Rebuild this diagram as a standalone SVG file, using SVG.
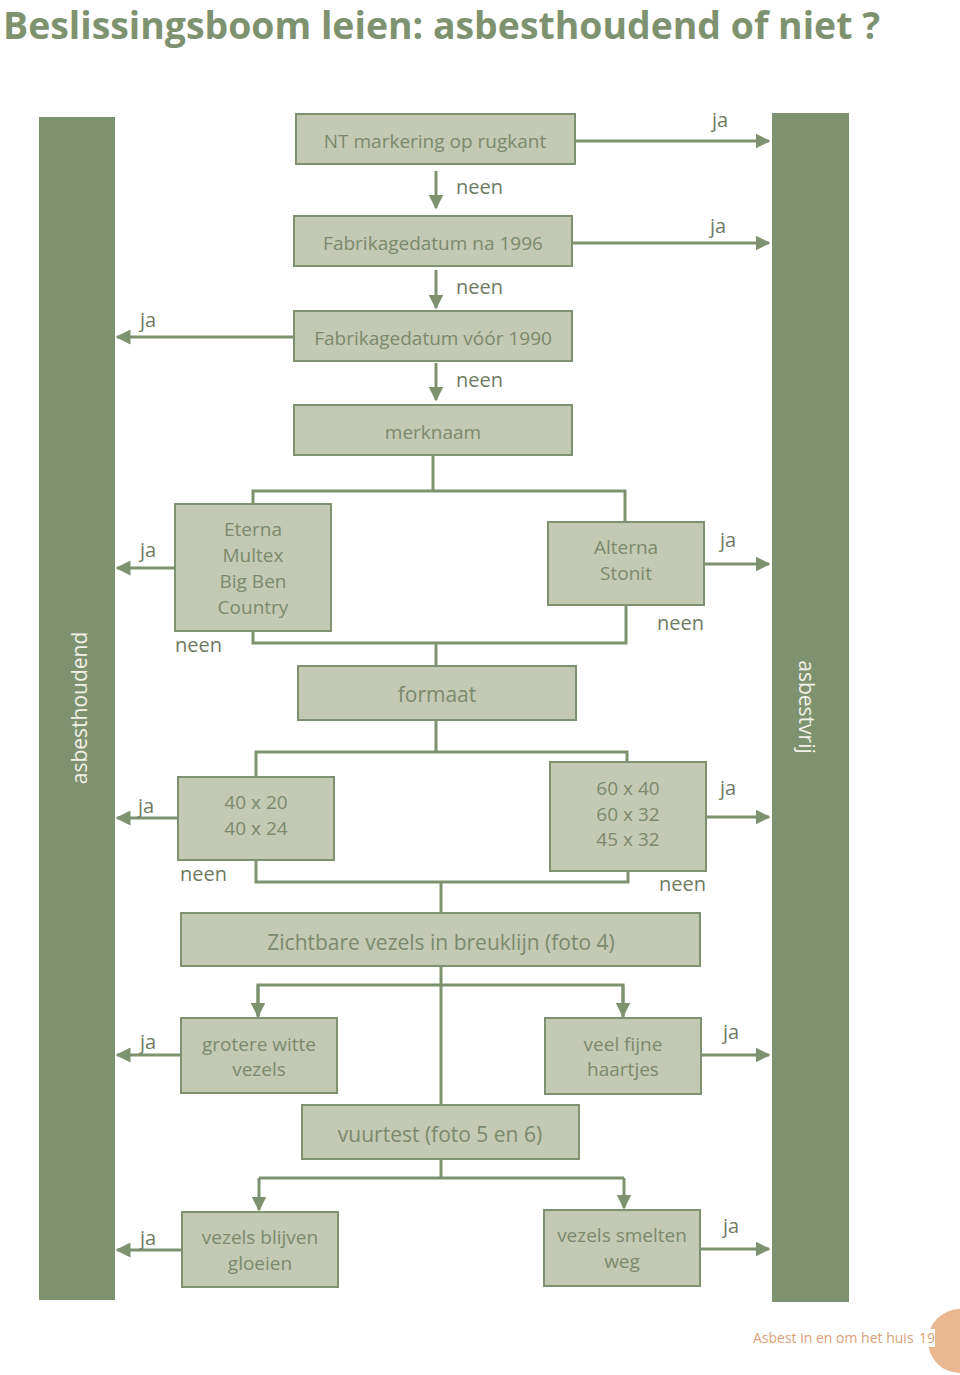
<svg xmlns="http://www.w3.org/2000/svg" width="960" height="1375" viewBox="0 0 960 1375">
<style>
.bar{fill:#7f926f}
.node rect{fill:#c3c9b3;stroke:#7f926f;stroke-width:2}
.node text{fill:#7c8a6c;font-family:"Open Sans","Noto Sans",sans-serif;font-size:19px;text-anchor:middle}
.lbl{fill:#6f7b63;font-family:"Open Sans","Noto Sans",sans-serif;font-size:20px}
.conn path{fill:none;stroke:#7f926f;stroke-width:3}
.side{fill:#f2f0e6;font-family:"Open Sans","Noto Sans",sans-serif;font-size:21px;text-anchor:middle}
.foot{font-family:"Open Sans","Noto Sans",sans-serif;font-size:14px;fill:#d9a177}
</style>
<defs>
<marker id="ah" viewBox="0 0 10 10" refX="9" refY="5" markerWidth="5" markerHeight="5" orient="auto" markerUnits="strokeWidth">
<path d="M0,0 L10,5 L0,10 z" fill="#7f926f"/>
</marker>
</defs>
<rect width="960" height="1375" fill="#ffffff"/>
<text x="3" y="39" font-family="'Open Sans','Noto Sans',sans-serif" font-weight="bold" font-size="37" fill="#7f926f" textLength="877" lengthAdjust="spacingAndGlyphs">Beslissingsboom leien: asbesthoudend of niet ?</text>

<g id="bar-asbesthoudend">
<rect class="bar" x="39" y="117" width="76" height="1183"/>
<text class="side" transform="translate(87,708) rotate(-90)">asbesthoudend</text>
</g>
<g id="bar-asbestvrij">
<rect class="bar" x="772" y="113" width="77" height="1189"/>
<text class="side" transform="translate(799,707) rotate(90)">asbestvrij</text>
</g>

<g class="conn" id="connectors">
<path d="M575,141 H769" marker-end="url(#ah)"/>
<path d="M572,243 H769" marker-end="url(#ah)"/>
<path d="M436,171 V208" marker-end="url(#ah)"/>
<path d="M436,270 V308" marker-end="url(#ah)"/>
<path d="M294,337 H117" marker-end="url(#ah)"/>
<path d="M436,363 V400" marker-end="url(#ah)"/>
<path d="M433,455 V491 M253,504 V491 H625 V522"/>
<path d="M175,568 H117" marker-end="url(#ah)"/>
<path d="M253,631 V643 H626 V605 M436,643 V666"/>
<path d="M704,564 H769" marker-end="url(#ah)"/>
<path d="M436,720 V752 M256,777 V752 H627 V762"/>
<path d="M178,818 H117" marker-end="url(#ah)"/>
<path d="M256,860 V882 H628 V871 M441,882 V913"/>
<path d="M706,817 H769" marker-end="url(#ah)"/>
<path d="M441,966 V1105 M258,1017 V985 H623 V1017"/>
<path d="M258,985 V1016" marker-end="url(#ah)"/>
<path d="M623,985 V1016" marker-end="url(#ah)"/>
<path d="M181,1055 H117" marker-end="url(#ah)"/>
<path d="M701,1055 H769" marker-end="url(#ah)"/>
<path d="M441,1159 V1178 H624 M441,1178 H259"/>
<path d="M259,1178 V1210" marker-end="url(#ah)"/>
<path d="M624,1178 V1208" marker-end="url(#ah)"/>
<path d="M182,1250 H117" marker-end="url(#ah)"/>
<path d="M700,1249 H769" marker-end="url(#ah)"/>
</g>

<g id="labels">
<text class="lbl" x="712" y="127">ja</text>
<text class="lbl" x="710" y="233">ja</text>
<text class="lbl" x="456" y="194">neen</text>
<text class="lbl" x="456" y="294">neen</text>
<text class="lbl" x="140" y="327">ja</text>
<text class="lbl" x="456" y="387">neen</text>
<text class="lbl" x="140" y="557">ja</text>
<text class="lbl" x="175" y="652">neen</text>
<text class="lbl" x="720" y="547">ja</text>
<text class="lbl" x="657" y="630">neen</text>
<text class="lbl" x="138" y="813">ja</text>
<text class="lbl" x="180" y="881">neen</text>
<text class="lbl" x="720" y="795">ja</text>
<text class="lbl" x="659" y="891">neen</text>
<text class="lbl" x="140" y="1049">ja</text>
<text class="lbl" x="723" y="1039">ja</text>
<text class="lbl" x="140" y="1245">ja</text>
<text class="lbl" x="723" y="1233">ja</text>
</g>

<g id="n-nt" class="node"><rect x="296" y="114" width="279" height="50"/><text x="435" y="148">NT markering op rugkant</text></g>
<g id="n-1996" class="node"><rect x="294" y="216" width="278" height="50"/><text x="433" y="250">Fabrikagedatum na 1996</text></g>
<g id="n-1990" class="node"><rect x="294" y="311" width="278" height="50"/><text x="433" y="345">Fabrikagedatum vóór 1990</text></g>
<g id="n-merknaam" class="node"><rect x="294" y="405" width="278" height="50"/><text x="433" y="439">merknaam</text></g>
<g id="n-eterna" class="node"><rect x="175" y="504" width="156" height="127"/><text x="253" y="536">Eterna</text><text x="253" y="562">Multex</text><text x="253" y="588">Big Ben</text><text x="253" y="614">Country</text></g>
<g id="n-alterna" class="node"><rect x="548" y="522" width="156" height="83"/><text x="626" y="554">Alterna</text><text x="626" y="580">Stonit</text></g>
<g id="n-formaat" class="node"><rect x="298" y="666" width="278" height="54"/><text x="437" y="702" style="font-size:21px">formaat</text></g>
<g id="n-4020" class="node"><rect x="178" y="777" width="156" height="83"/><text x="256" y="809">40 x 20</text><text x="256" y="835">40 x 24</text></g>
<g id="n-6040" class="node"><rect x="550" y="762" width="156" height="109"/><text x="628" y="795">60 x 40</text><text x="628" y="821">60 x 32</text><text x="628" y="846">45 x 32</text></g>
<g id="n-zichtbaar" class="node"><rect x="181" y="913" width="519" height="53"/><text x="441" y="950" style="font-size:21px">Zichtbare vezels in breuklijn (foto 4)</text></g>
<g id="n-grotere" class="node"><rect x="181" y="1018" width="156" height="75"/><text x="259" y="1051">grotere witte</text><text x="259" y="1076">vezels</text></g>
<g id="n-fijne" class="node"><rect x="545" y="1018" width="156" height="76"/><text x="623" y="1051">veel fijne</text><text x="623" y="1076">haartjes</text></g>
<g id="n-vuurtest" class="node"><rect x="302" y="1105" width="277" height="54"/><text x="440" y="1142" style="font-size:21px">vuurtest (foto 5 en 6)</text></g>
<g id="n-gloeien" class="node"><rect x="182" y="1212" width="156" height="75"/><text x="260" y="1244">vezels blijven</text><text x="260" y="1270">gloeien</text></g>
<g id="n-smelten" class="node"><rect x="544" y="1210" width="156" height="76"/><text x="622" y="1242">vezels smelten</text><text x="622" y="1268">weg</text></g>

<g id="footer">
<circle cx="960" cy="1341" r="32" fill="#e9b890"/>
<rect x="917" y="1329" width="18" height="18" fill="#ffffff"/>
<text class="foot" x="753" y="1343">Asbest in en om het huis</text>
<text class="foot" x="919" y="1343">19</text>
</g>
</svg>
